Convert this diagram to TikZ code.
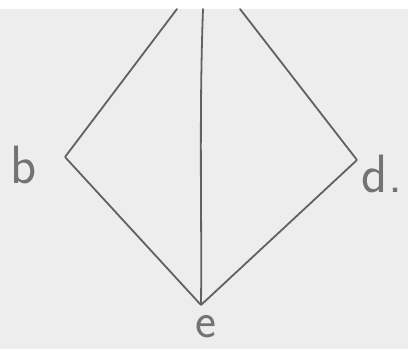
\documentclass[tikz,border=0pt]{standalone}
\usepackage{fontspec}
\setmainfont{DejaVu Sans}
\begin{document}
\begin{tikzpicture}[x=1pt,y=-1pt,
  pencil/.style={draw=black!62, line width=1.8pt, line cap=round, line join=round},
  vtx/.style={inner sep=0pt, minimum size=0pt},
  lbl/.style={text=black!55, font=\fontsize{54}{54}\selectfont\sffamily, inner sep=0pt}]
\useasboundingbox (0,0) rectangle (408,349);
\fill[white] (0,0) rectangle (408,349);
\fill[black!7] (0,9) rectangle (408,349);
\coordinate (tl) at (177,9);
\coordinate (tc) at (203,9);
\coordinate (tr) at (240,9);
\node[vtx] (b) at (65,157) {};
\node[vtx] (d) at (357,160) {};
\node[vtx] (e) at (201,305) {};
\draw[pencil] (tl) -- (b) -- (e) -- (d) -- (tr);
\draw[pencil] (tc) .. controls (199,120) and (202,220) .. (e);
\node[lbl] (lb) at (24,165) {b};
\node[lbl] (ld) at (382,174) {d.};
\node[lbl, font=\fontsize{50}{50}\selectfont\sffamily] (le) at (206,327) {e};
\end{tikzpicture}
\end{document}
